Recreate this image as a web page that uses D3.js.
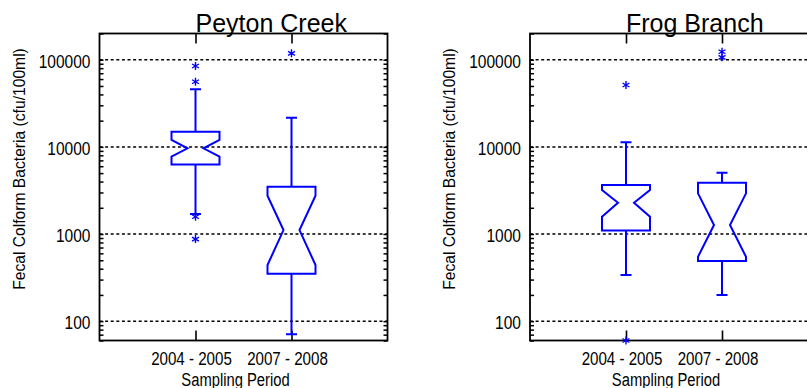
<!DOCTYPE html>
<html>
<head>
<meta charset="utf-8">
<script src="https://cdn.jsdelivr.net/npm/d3@7"></script>
<style>
  html, body { margin: 0; padding: 0; background: #fff; }
  svg { display: block; }
  text { font-family: "Liberation Sans", Arial, sans-serif; }
</style>
</head>
<body>
<svg id="chart" width="807" height="388"></svg>
<script>
// Fecal coliform box plots, two sites, two sampling periods each.
const sites = ["Peyton Creek", "Frog Branch"];
const periods = ["2004 - 2005", "2007 - 2008"];
const yTicks = [100, 1000, 10000, 100000];

// Box statistics, indexed [site][period] (cfu/100ml)
const lowerWhisker  = [[1695, 70.6], [338, 200]];
const firstQuartile = [[6270, 351], [1100, 490]];
const notchLow      = [[7710, 441], [1578, 548]];
const median        = [[9620, 1110], [2285, 1270]];
const notchHigh     = [[12000, 2750], [3200, 2930]];
const thirdQuartile = [[14900, 3490], [3650, 3870]];
const upperWhisker  = [[45700, 21600], [11300, 5050]];
const outliers = [
  [[84700, 55900, 1578, 875], [118400]],
  [[51300, 60], [123500, 106600]]
];

const svg = d3.select("#chart");
const blue = "#0000ff";
const panelX = [99.5, 530];
const panelW = 288;
const plotTop = 33.5, plotBottom = 340.5;

const y = d3.scaleLog().domain([60, 200000]).range([plotBottom, plotTop]);

// squeeze text horizontally to a narrow face
function condense(sel, k = 0.82) {
  sel.each(function () {
    const len = this.getComputedTextLength();
    d3.select(this).attr("textLength", len * k).attr("lengthAdjust", "spacingAndGlyphs");
  });
}

// minor ticks 2..9 per decade, plus decade ticks
const minorTicks = [];
for (let d = 10; d <= 100000; d *= 10) {
  for (let k = 1; k <= 9; k++) {
    const v = d * k;
    if (v >= 60 && v <= 200000) minorTicks.push(v);
  }
}

// six-armed asterisk used for outliers
const star = {
  draw(ctx, size) {
    const r = Math.sqrt(size) / 2;
    for (const a of [90, 30, 150]) {
      const t = a * Math.PI / 180;
      const dx = r * Math.cos(t), dy = r * Math.sin(t);
      ctx.moveTo(-dx, -dy);
      ctx.lineTo(dx, dy);
    }
  }
};

sites.forEach((site, si) => {
  const x0 = panelX[si];
  const x = d3.scalePoint().domain(periods).range([x0, x0 + panelW]).padding(1);
  const g = svg.append("g");

  // dotted decade gridlines
  g.selectAll("line.grid").data(yTicks).join("line")
    .attr("x1", x0).attr("x2", x0 + panelW)
    .attr("y1", d => y(d)).attr("y2", d => y(d))
    .attr("stroke", "#000").attr("stroke-width", 1.5)
    .attr("stroke-dasharray", "3,2.6");

  // inward minor ticks on left and right edges
  const left = g.append("g").attr("transform", `translate(${x0},0)`)
    .call(d3.axisLeft(y).tickValues(minorTicks).tickSize(-4).tickFormat(""));
  const right = g.append("g").attr("transform", `translate(${x0 + panelW},0)`)
    .call(d3.axisRight(y).tickValues(minorTicks).tickSize(-4).tickFormat(""));
  [left, right].forEach(a => {
    a.select(".domain").remove();
    a.selectAll("line").attr("stroke", "#000").attr("stroke-width", 1.5);
  });

  // y tick labels
  const labels = g.append("g").attr("transform", `translate(${x0},0)`)
    .call(d3.axisLeft(y).tickValues(yTicks).tickSize(0).tickPadding(9).tickFormat(d3.format("d")));
  labels.select(".domain").remove();
  labels.attr("font-family", null).attr("font-size", 18.5);
  labels.selectAll("text").attr("fill", "#000").attr("dy", "0.4em").call(condense, 0.84);

  // category ticks on top and bottom, pointing inward
  const xb = g.append("g").attr("transform", `translate(0,${plotBottom})`)
    .call(d3.axisBottom(x).tickSize(-10).tickPadding(12));
  xb.select(".domain").remove();
  xb.attr("font-family", null).attr("font-size", 18);
  xb.selectAll("line").attr("stroke", "#000").attr("stroke-width", 1.6);
  xb.selectAll("text").attr("fill", "#000").attr("dx", -4.5).call(condense, 0.84);
  const xt = g.append("g").attr("transform", `translate(0,${plotTop})`)
    .call(d3.axisTop(x).tickSize(-10).tickFormat(""));
  xt.select(".domain").remove();
  xt.selectAll("line").attr("stroke", "#000").attr("stroke-width", 1.6);

  // frame
  g.append("rect").attr("x", x0).attr("y", plotTop).attr("width", panelW).attr("height", plotBottom - plotTop)
    .attr("fill", "none").attr("stroke", "#000").attr("stroke-width", 1.8);

  // notched boxes
  const hw = 24, inset = 16, cap = 5.5;
  periods.forEach((p, pi) => {
    const cx = x(p);
    const yq1 = y(firstQuartile[si][pi]), yq3 = y(thirdQuartile[si][pi]);
    const ynl = y(notchLow[si][pi]), ynh = y(notchHigh[si][pi]), ym = y(median[si][pi]);
    const path = d3.path();
    path.moveTo(cx - hw, yq3);
    path.lineTo(cx + hw, yq3);
    path.lineTo(cx + hw, ynh);
    path.lineTo(cx + hw - inset, ym);
    path.lineTo(cx + hw, ynl);
    path.lineTo(cx + hw, yq1);
    path.lineTo(cx - hw, yq1);
    path.lineTo(cx - hw, ynl);
    path.lineTo(cx - hw + inset, ym);
    path.lineTo(cx - hw, ynh);
    path.closePath();
    g.append("path").attr("d", path.toString())
      .attr("fill", "none").attr("stroke", blue).attr("stroke-width", 2);

    const yu = y(upperWhisker[si][pi]), yl = y(lowerWhisker[si][pi]);
    const w = d3.path();
    w.moveTo(cx, yq3); w.lineTo(cx, yu);
    w.moveTo(cx - cap, yu); w.lineTo(cx + cap, yu);
    w.moveTo(cx, yq1); w.lineTo(cx, yl);
    w.moveTo(cx - cap, yl); w.lineTo(cx + cap, yl);
    g.append("path").attr("d", w.toString())
      .attr("fill", "none").attr("stroke", blue).attr("stroke-width", 2);

    g.selectAll(null).data(outliers[si][pi]).join("path")
      .attr("transform", d => `translate(${cx},${y(d)})`)
      .attr("d", d3.symbol(star, 64)())
      .attr("fill", "none").attr("stroke", blue).attr("stroke-width", 1.4);
  });

  // titles and axis labels
  const px = periods.map(x);
  svg.append("text").attr("font-size", 25)
    .attr("x", px[0]).attr("y", 32).text(site);
  svg.append("text").attr("font-size", 18)
    .attr("text-anchor", "middle")
    .attr("x", (px[0] + px[1]) / 2 - 8).attr("y", 385.5).text("Sampling Period")
    .call(condense, 0.82);
  svg.append("text").attr("font-size", 17)
    .attr("text-anchor", "middle")
    .attr("transform", `translate(${x0 - 75},169) rotate(-90)`)
    .text("Fecal Colform Bacteria (cfu/100ml)")
    .call(condense, 0.92);
});
</script>
</body>
</html>
